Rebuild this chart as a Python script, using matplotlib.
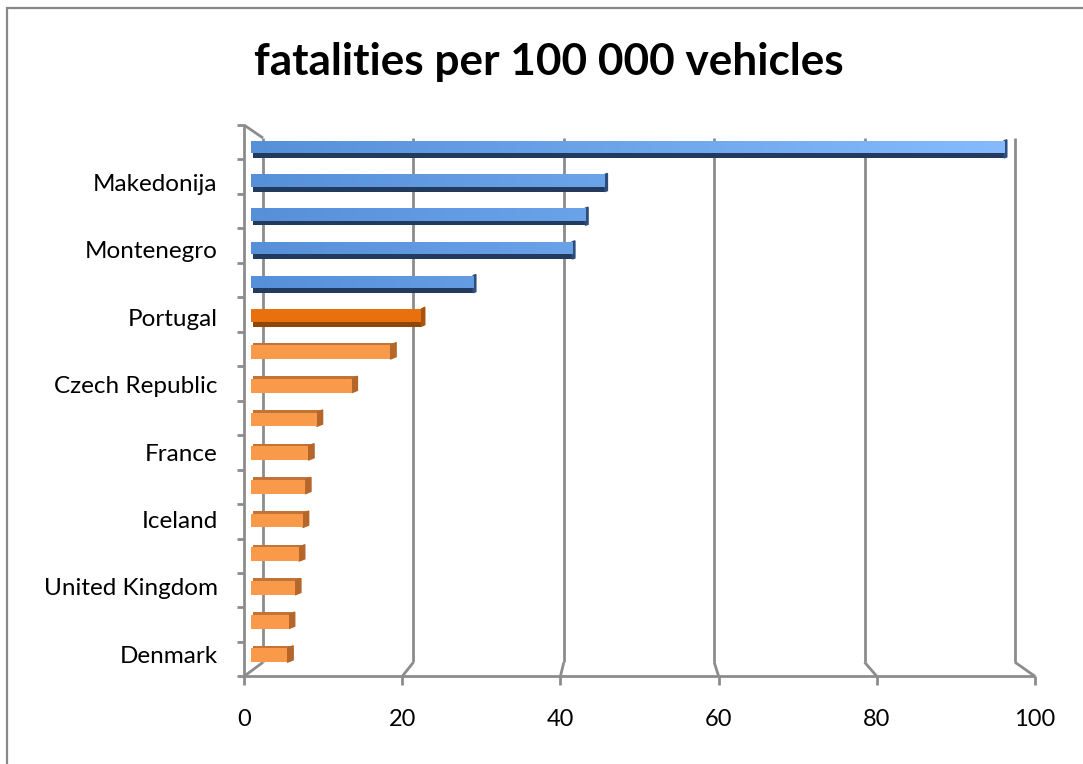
import numpy as np
import matplotlib.pyplot as plt
from matplotlib.patches import Rectangle, Polygon
from matplotlib.colors import LinearSegmentedColormap

# data, top bar first
countries = ["", "Makedonija", "", "Montenegro", "", "Portugal", "", "Czech Republic",
             "", "France", "", "Iceland", "", "United Kingdom", "", "Denmark"]
fatalities = [97.3, 45.7, 43.2, 41.5, 28.7, 22.0, 18.0, 13.0,
              8.5, 7.4, 7.0, 6.7, 6.2, 5.7, 4.9, 4.7]
groups = ["blue"] * 5 + ["highlight"] + ["orange"] * 10
xticks = [0, 20, 40, 60, 80, 100]
title = "fatalities per 100 000 vehicles"

plt.rcParams['font.family'] = ['Lato', 'DejaVu Sans']

W, H = 1083, 764
fig = plt.figure(figsize=(W / 100, H / 100), dpi=100)
fig.patches.append(Rectangle((7 / W, -0.1), 2, 1 - 8 / H + 0.1, transform=fig.transFigure,
                             fill=False, ec='#888888', lw=1.6))
fig.text(549 / W, 1 - 62 / H, title, ha='center', va='center', fontsize=31.8, fontweight='bold')

ax = fig.add_axes([251 / W, 1 - 671 / H, 774 / W, 539 / H])
ax.set_xlim(0, 100)
ax.set_ylim(15.5, -0.5)
ax.patch.set_visible(False)
for s in ax.spines.values():
    s.set_visible(False)

n = len(fatalities)


# pseudo 3d frame: front plane slightly larger, back wall slightly smaller
def front_x(v):
    return -0.9 + 1.022 * v


def back_x(v):
    return 1.55 + 0.9716 * v


def front_y(k):
    return -0.708 + 1.0229 * k


def back_y(k):
    return -0.322 + 0.9727 * k


gc = '#8c8c8c'
kw = dict(color=gc, lw=2.0, clip_on=False, zorder=1, solid_capstyle='butt')
for v in xticks:
    ax.plot([back_x(v)] * 2, [back_y(0), back_y(n)], **kw)
    ax.plot([back_x(v), front_x(v)], [back_y(n), front_y(n)], **kw)
    ax.plot([front_x(v)] * 2, [front_y(n), front_y(n) + 0.25], **kw)
    ax.text(front_x(v), front_y(n) + 1.27, str(v), ha='center', va='center', fontsize=17)
ax.plot([front_x(0)] * 2, [front_y(0), front_y(n)], **kw)
ax.plot([front_x(0), back_x(0)], [front_y(0), back_y(0)], **kw)
ax.plot([front_x(0), front_x(100)], [front_y(n)] * 2, **kw)
for k in range(n + 1):
    ax.plot([front_x(0) - 0.9, front_x(0)], [front_y(k)] * 2, **kw)

# bars
y = np.arange(n)
grad = np.linspace(0, 1, 256).reshape(1, -1)
blue_cmap = LinearSegmentedColormap.from_list('b', ['#5690d8', '#86bcff'])

for i, (v, g) in enumerate(zip(fatalities, groups)):
    yc = y[i]
    if g == "blue":
        ax.barh(yc + 0.2, v - 0.2, left=0.2, height=0.15, color='#213a5e', zorder=3)
        face = ax.barh(yc - 0.055, v, height=0.37, color='#5a93da', zorder=4)[0]
        im = ax.imshow(grad, cmap=blue_cmap, extent=(0, 100, yc + 0.13, yc - 0.24),
                       aspect='auto', zorder=4.5)
        im.set_clip_path(face)
        ax.add_patch(Polygon([(v, yc - 0.24), (v + 0.35, yc - 0.27), (v + 0.35, yc + 0.24),
                              (v, yc + 0.27)], closed=True, color='#2c4d7a', zorder=3.5))
    elif g == "highlight":
        ax.barh(yc + 0.2, v - 0.2, left=0.2, height=0.15, color='#8f4606', zorder=3)
        ax.barh(yc - 0.055, v, height=0.37, color='#e8700e', zorder=4)
        ax.add_patch(Polygon([(v, yc - 0.24), (v + 0.45, yc - 0.3), (v + 0.45, yc + 0.22),
                              (v, yc + 0.27)], closed=True, color='#a9530b', zorder=3.5))
    else:
        ax.barh(yc - 0.21, v + 0.3, left=0.3, height=0.08, color='#c27335', zorder=3)
        ax.barh(yc + 0.035, v, height=0.41, color='#f99a4b', zorder=4)
        ax.add_patch(Polygon([(v, yc - 0.17), (v + 0.75, yc - 0.25), (v + 0.75, yc + 0.17),
                              (v, yc + 0.24)], closed=True, color='#b4662b', zorder=3.5))

ax.set_xticks([])
ax.set_yticks(y, countries)
ax.tick_params(axis='y', length=0, pad=24, labelsize=17.5)

fig.savefig('out.png', dpi=100)
